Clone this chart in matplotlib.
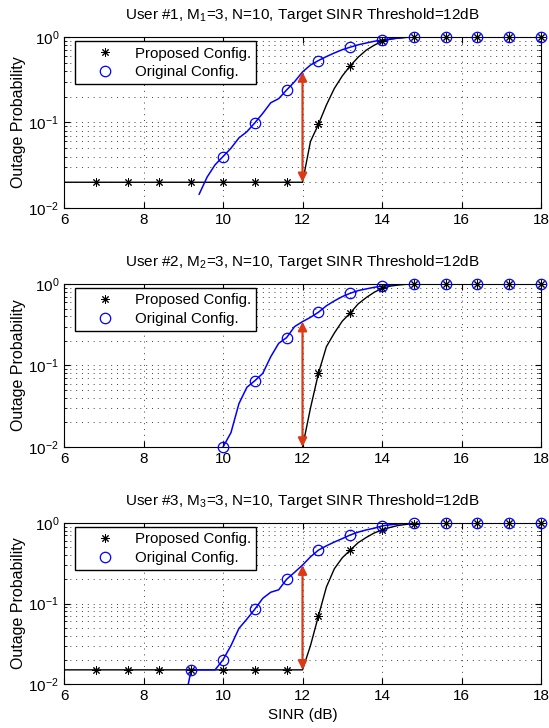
import numpy as np
import matplotlib
matplotlib.use('Agg')
import matplotlib.pyplot as plt
from matplotlib.ticker import LogLocator, NullFormatter

plt.rcParams['font.family'] = ['Liberation Sans', 'DejaVu Sans']
plt.rcParams['mathtext.default'] = 'regular'

nan = np.nan

# SINR grid (dB), 0.2 dB step
sinr = [6.0, 6.2, 6.4, 6.6, 6.8, 7.0, 7.2, 7.4, 7.6, 7.8,
        8.0, 8.2, 8.4, 8.6, 8.8, 9.0, 9.2, 9.4, 9.6, 9.8,
        10.0, 10.2, 10.4, 10.6, 10.8, 11.0, 11.2, 11.4, 11.6, 11.8,
        12.0, 12.2, 12.4, 12.6, 12.8, 13.0, 13.2, 13.4, 13.6, 13.8,
        14.0, 14.2, 14.4, 14.6, 14.8, 15.0, 15.2, 15.4, 15.6, 15.8,
        16.0, 16.2, 16.4, 16.6, 16.8, 17.0, 17.2, 17.4, 17.6, 17.8, 18.0]

# user 1
u1_proposed = [0.02] * 31 + [0.06, 0.095, 0.16, 0.25, 0.35, 0.46, 0.58, 0.70, 0.80,
                             0.89, 0.94, 0.97, 0.99] + [1.0] * 17
u1_original = [nan] * 17 + [0.0145, 0.023, 0.032, 0.040, 0.050, 0.066, 0.078, 0.099,
                            0.128, 0.17, 0.19, 0.24, 0.30, 0.39, 0.47, 0.53, 0.59,
                            0.65, 0.71, 0.76, 0.81, 0.85, 0.89, 0.92, 0.95, 0.97,
                            0.99] + [1.0] * 17

# user 2
u2_proposed = [nan] * 30 + [0.01, 0.030, 0.080, 0.17, 0.25, 0.35, 0.44, 0.57, 0.68,
                            0.79, 0.885, 0.94, 0.97, 0.99] + [1.0] * 17
u2_original = [nan] * 20 + [0.01, 0.015, 0.034, 0.054, 0.065, 0.080, 0.128, 0.187,
                            0.22, 0.30, 0.345, 0.39, 0.45, 0.54, 0.62, 0.70, 0.77,
                            0.83, 0.87, 0.91, 0.94, 0.97, 0.99, 1.0] + [1.0] * 17

# user 3
u3_proposed = [0.015] * 31 + [0.030, 0.070, 0.16, 0.27, 0.37, 0.46, 0.57, 0.66, 0.75,
                              0.82, 0.88, 0.93, 0.96, 0.985, 0.99] + [1.0] * 15
u3_original = [nan] * 15 + [0.005, 0.015, 0.015, 0.015, 0.015, 0.020, 0.030, 0.049,
                            0.064, 0.085, 0.116, 0.138, 0.148, 0.20, 0.244, 0.30, 0.38,
                            0.46, 0.52, 0.58, 0.64, 0.71, 0.77, 0.82, 0.86, 0.92, 0.95,
                            0.97, 0.99] + [1.0] * 17

users = [1, 2, 3]
proposed = [u1_proposed, u2_proposed, u3_proposed]
original = [u1_original, u2_original, u3_original]
threshold = 12.0

fig = plt.figure(figsize=(5.49, 7.28), dpi=100)
# [left, bottom, width, height] in figure fraction
boxes = [[0.1166, 0.7143, 0.8689, 0.2349],
         [0.1166, 0.3860, 0.8689, 0.2239],
         [0.1166, 0.0604, 0.8689, 0.2212]]

arrow_color = '#dc3a16'
star = (8, 2, 0)
mk = slice(4, None, 4)

for k in range(3):
    ax = fig.add_axes(boxes[k])
    x = np.array(sinr)
    yp = np.array(proposed[k])
    yo = np.array(original[k])

    ax.plot(x, yp, color='k', lw=1.0)
    ax.plot(x, yo, color='b', lw=1.1)
    ax.plot(x[mk], yp[mk], ls='none', marker=star, color='k', ms=6, mew=0.7,
            clip_on=False, label='Proposed Config.', zorder=4)
    ax.plot(x[mk], yo[mk], ls='none', marker='o', mfc='none', mec='b', ms=7.5, mew=0.9,
            clip_on=False, label='Original Config.', zorder=4)

    i12 = sinr.index(threshold)
    ax.annotate('', xy=(threshold, yp[i12]), xytext=(threshold, yo[i12]),
                arrowprops=dict(arrowstyle='<|-|>', color=arrow_color, lw=1.6,
                                mutation_scale=13, shrinkA=0, shrinkB=0), zorder=5)

    ax.set_yscale('log')
    ax.set_xlim(6, 18)
    ax.set_ylim(1e-2, 1)
    ax.set_xticks([6, 8, 10, 12, 14, 16, 18])
    ax.yaxis.set_major_locator(LogLocator(base=10, numticks=5))
    ax.yaxis.set_minor_locator(LogLocator(base=10, subs=np.arange(2, 10), numticks=10))
    ax.yaxis.set_minor_formatter(NullFormatter())
    ax.tick_params(which='both', direction='in', top=True, right=True, labelsize=11)
    ax.tick_params(which='major', length=4)
    ax.tick_params(which='minor', length=2.5)
    ax.grid(True, which='major', axis='x', color='0.25', ls=(0, (1, 5)), lw=0.7)
    ax.grid(True, which='both', axis='y', color='0.25', ls=(0, (1, 5)), lw=0.7)

    ax.set_ylabel('Outage Probability', fontsize=11.5)
    ax.yaxis.set_label_coords(-0.08, 0.5)
    ax.set_title(f'User #{users[k]}, M$_{users[k]}$=3, N=10, Target SINR Threshold=12dB',
                 fontsize=11, pad=13)
    if k == 2:
        ax.set_xlabel('SINR (dB)', fontsize=11, labelpad=4)

    leg = ax.legend(loc='upper left', bbox_to_anchor=(0.023, 0.975), fontsize=10.8,
                    fancybox=False, framealpha=1, edgecolor='k', borderaxespad=0,
                    handletextpad=0.35, handlelength=3.3, borderpad=0.35, labelspacing=0.3)
    leg.get_frame().set_linewidth(1.0)

fig.savefig('out.png', dpi=100)
